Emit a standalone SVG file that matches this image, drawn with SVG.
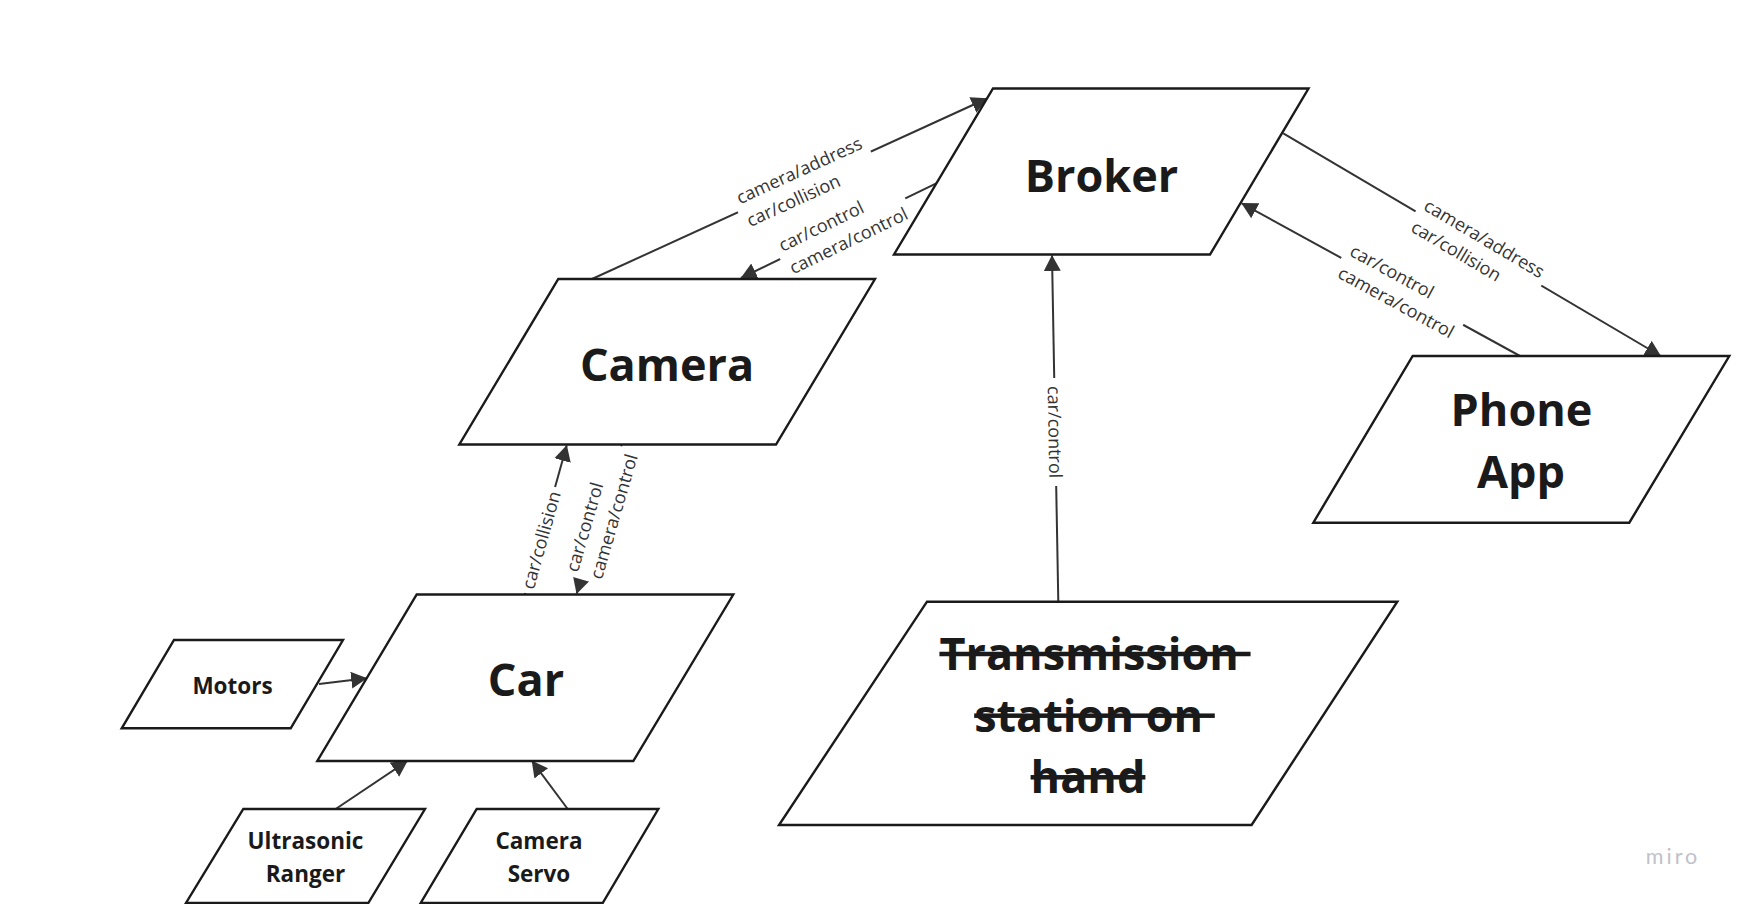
<svg xmlns="http://www.w3.org/2000/svg" width="1740" height="904" viewBox="0 0 1740 904">
<defs>
<style>
.shape{fill:#fff;stroke:#1a1a1a;stroke-width:2.4;stroke-linejoin:miter}
.big{font-family:"Open Sans","Liberation Sans",sans-serif;font-weight:700;font-size:45px;fill:#1a1a1a;text-anchor:middle}
.small{font-family:"Open Sans","Liberation Sans",sans-serif;font-weight:700;font-size:22.5px;fill:#1a1a1a;text-anchor:middle}
.edge{stroke:#333;stroke-width:2;fill:none}
.arrow{marker-end:url(#arr)}
.lbl{font-family:"Open Sans","Liberation Sans",sans-serif;font-size:18px;fill:#333}
.bg{fill:#fff}
.strike{text-decoration:line-through;white-space:pre}
</style>
<marker id="arr" markerUnits="userSpaceOnUse" markerWidth="20" markerHeight="20" refX="15.5" refY="8.5" orient="auto">
<path d="M0,0 L16,8.5 L0,17 z" fill="#333"/>
</marker>
</defs>
<rect width="1740" height="904" fill="#fff"/>

<g id="connectors">
  <g id="e-camera-broker">
    <line class="edge arrow" x1="592" y1="279" x2="987" y2="98.5"/>
    <g transform="translate(742.4,209.9) rotate(-24.5)">
      <rect class="bg" x="-5" y="-23" width="146" height="46"/>
      <text class="lbl" y="-6">camera/address</text>
      <text class="lbl" y="19">car/collision</text>
    </g>
  </g>
  <g id="e-broker-camera">
    <line class="edge arrow" x1="936.3" y1="183.3" x2="741" y2="278"/>
    <g transform="translate(785,257.5) rotate(-25.9)">
      <rect class="bg" x="-5" y="-23" width="139" height="46"/>
      <text class="lbl" y="-6">car/control</text>
      <text class="lbl" y="19">camera/control</text>
    </g>
  </g>
  <g id="e-broker-phone">
    <line class="edge arrow" x1="1283.3" y1="133.3" x2="1660.7" y2="356"/>
    <g transform="translate(1419.5,214.5) rotate(30.6)">
      <rect class="bg" x="-5" y="-23" width="146" height="46"/>
      <text class="lbl" y="-6">camera/address</text>
      <text class="lbl" y="19">car/collision</text>
    </g>
  </g>
  <g id="e-phone-broker">
    <line class="edge arrow" x1="1520" y1="356" x2="1241.7" y2="203.3"/>
    <g transform="translate(1345.7,260.3) rotate(28.6)">
      <rect class="bg" x="-5" y="-23" width="139" height="46"/>
      <text class="lbl" y="-6">car/control</text>
      <text class="lbl" y="19">camera/control</text>
    </g>
  </g>
  <g id="e-car-camera">
    <line class="edge arrow" x1="525" y1="594.5" x2="566.7" y2="445.5"/>
    <g transform="translate(527.4,588.4) rotate(-74.3)">
      <rect class="bg" x="-5" y="-11" width="110" height="22"/>
      <text class="lbl" y="6.5">car/collision</text>
    </g>
  </g>
  <g id="e-camera-car">
    <line class="edge arrow" x1="621.5" y1="445" x2="576.7" y2="593.5"/>
    <g transform="translate(583.5,574.8) rotate(-73.7)">
      <rect class="bg" x="-5" y="-23" width="139" height="46"/>
      <text class="lbl" y="-6">car/control</text>
      <text class="lbl" y="19">camera/control</text>
    </g>
  </g>
  <g id="e-trans-broker">
    <line class="edge arrow" x1="1058.3" y1="601.5" x2="1052" y2="255.5"/>
    <g transform="translate(1054.2,386) rotate(89)">
      <rect class="bg" x="-8" y="-11" width="108" height="22"/>
      <text class="lbl" y="6.5">car/control</text>
    </g>
  </g>
  <line id="e-motors-car" class="edge arrow" x1="319" y1="684" x2="366.7" y2="678.3"/>
  <line id="e-ultra-car" class="edge arrow" x1="335.7" y1="809" x2="407.3" y2="761"/>
  <line id="e-servo-car" class="edge arrow" x1="567.7" y1="809" x2="532" y2="761"/>
</g>

<g id="broker">
  <polygon class="shape" points="993,88.5 1308.5,88.5 1210,254.5 894,254.5"/>
  <text class="big" x="1101.5" y="192">Broker</text>
</g>
<g id="camera">
  <polygon class="shape" points="558.3,279 875,279 776,444.5 459.3,444.5"/>
  <text class="big" x="667" y="381">Camera</text>
</g>
<g id="phone-app">
  <polygon class="shape" points="1412.7,356 1729.3,356 1629.3,522.7 1313.3,522.7"/>
  <text class="big" x="1521.5" y="426">Phone</text>
  <text class="big" x="1521" y="488">App</text>
</g>
<g id="car">
  <polygon class="shape" points="416.7,594.5 733.3,594.5 633.3,761 317.3,761"/>
  <text class="big" x="526" y="696">Car</text>
</g>
<g id="transmission">
  <polygon class="shape" points="927,601.7 1397.3,601.7 1251.6,825 779,825"/>
  <text class="big strike" x="1095" y="670" xml:space="preserve">Transmission </text>
  <text class="big strike" x="1094.5" y="731.7" xml:space="preserve">station on </text>
  <text class="big strike" x="1088" y="793.3">hand</text>
</g>
<g id="motors">
  <polygon class="shape" points="174,640 343,640 290.7,728.3 121.7,728.3"/>
  <text class="small" x="232.5" y="693.5">Motors</text>
</g>
<g id="ultrasonic-ranger">
  <polygon class="shape" points="243.3,809 425,809 368.3,903 186,903"/>
  <text class="small" x="305.5" y="849">Ultrasonic</text>
  <text class="small" x="305.5" y="881.5">Ranger</text>
</g>
<g id="camera-servo">
  <polygon class="shape" points="476.7,809 658.3,809 602.7,903 420.7,903"/>
  <text class="small" x="539" y="849">Camera</text>
  <text class="small" x="539" y="881.5">Servo</text>
</g>
<text x="1673" y="863.5" font-family="Lato, 'Open Sans', sans-serif" font-size="21.5" letter-spacing="3" fill="#c0c1c9" text-anchor="middle">miro</text>
</svg>
